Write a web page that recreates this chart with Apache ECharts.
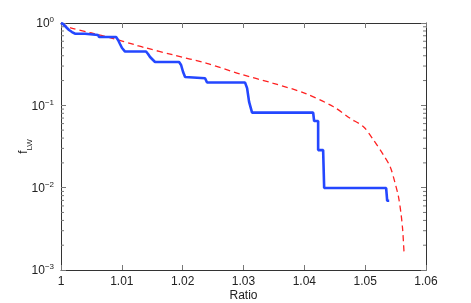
<!DOCTYPE html>
<html>
<head>
<meta charset="utf-8">
<script src="https://cdn.jsdelivr.net/npm/echarts@6/dist/echarts.min.js"></script>
<style>
  html, body { margin: 0; padding: 0; background: #fff; }
  #chart { width: 471px; height: 303px; }
</style>
</head>
<body>
<div id="chart"></div>
<script>
// blue step curve (measured)
const blueRatio = [1.0000, 1.00033, 1.00066, 1.00099, 1.00132, 1.00181, 1.0023, 1.00395, 1.00411, 1.00609,
  1.00625, 1.00905, 1.00938, 1.0097, 1.01003, 1.01053, 1.01398, 1.01431, 1.01464, 1.01513,
  1.01546, 1.01941, 1.01974, 1.02007, 1.0204, 1.02072, 1.02368, 1.02401, 1.03026, 1.03059,
  1.03092, 1.03141, 1.04145, 1.04161, 1.04227, 1.04227, 1.04309, 1.04326, 1.05345, 1.05362, 1.05395];
const blueF = [1.000, 0.972, 0.919, 0.869, 0.822, 0.777, 0.741, 0.741, 0.715, 0.715,
  0.676, 0.676, 0.621, 0.556, 0.497, 0.450, 0.450, 0.420, 0.386, 0.355,
  0.336, 0.336, 0.309, 0.254, 0.221, 0.213, 0.213, 0.189, 0.189, 0.162,
  0.110, 0.0815, 0.0815, 0.0645, 0.0645, 0.0286, 0.0286, 0.0099, 0.0099, 0.00693, 0.00693];

// red dashed curve (measured)
const redRatio = [1.0000, 1.0017, 1.0050, 1.00827, 1.01212, 1.01382, 1.01847, 1.02396, 1.02944, 1.03492,
  1.04013, 1.04479, 1.04753, 1.04972, 1.05137, 1.05301, 1.05411, 1.05493, 1.05548, 1.05592, 1.05617, 1.05641];
const redF = [1.000, 0.869, 0.756, 0.657, 0.545, 0.501, 0.409, 0.324, 0.240, 0.185,
  0.140, 0.0962, 0.0695, 0.0550, 0.0379, 0.0249, 0.01795, 0.01127, 0.00775, 0.00465, 0.00305, 0.00152];

const xTickLabels = ['1', '1.01', '1.02', '1.03', '1.04', '1.05', '1.06'];
const yExponents = ['0', '−1', '−2', '−3'];
const minorTicks = [0.002, 0.003, 0.004, 0.005, 0.006, 0.007, 0.008, 0.009,
  0.02, 0.03, 0.04, 0.05, 0.06, 0.07, 0.08, 0.09,
  0.2, 0.3, 0.4, 0.5, 0.6, 0.7, 0.8, 0.9];

const axisColor = '#333';
const textColor = '#222';
const fontFamily = '"Liberation Sans", Arial, sans-serif';

const chart = echarts.init(document.getElementById('chart'));

const boxAxisX = (pos, labels) => ({
  type: 'value',
  position: pos,
  min: 1,
  max: 1.06,
  interval: 0.01,
  axisLine: { show: true, onZero: false, lineStyle: { color: axisColor, width: 1 } },
  axisTick: { show: true, inside: true, length: 5, lineStyle: { color: '#777' } },
  splitLine: { show: false },
  axisLabel: {
    show: labels,
    color: textColor,
    fontSize: 12,
    fontFamily,
    margin: 6,
    formatter: (v) => xTickLabels[Math.round((v - 1) / 0.01)] || ''
  }
});

const boxAxisY = (pos, labels) => ({
  type: 'log',
  logBase: 10,
  position: pos,
  min: 0.001,
  max: 1,
  splitNumber: 3,
  axisLine: { show: true, onZero: false, lineStyle: { color: axisColor, width: 1 } },
  axisTick: { show: true, inside: true, length: 5, lineStyle: { color: '#777' } },
  splitLine: { show: false },
  axisLabel: {
    show: labels,
    margin: 7,
    formatter: (v) => {
      const e = Math.round(-Math.log10(v));
      return '{b|10}{s|' + yExponents[e] + '}';
    },
    rich: {
      b: { fontSize: 12, fontFamily, color: textColor, verticalAlign: 'bottom' },
      s: { fontSize: 8, fontFamily, color: textColor, verticalAlign: 'bottom', padding: [0, 0, 6, 0] }
    }
  }
});

const xMain = boxAxisX('bottom', true);
xMain.name = 'Ratio';
xMain.nameLocation = 'middle';
xMain.nameGap = 20;
xMain.nameMoveOverlap = false;
xMain.nameTextStyle = { color: textColor, fontSize: 12, fontFamily };

const yMain = boxAxisY('left', true);
yMain.name = '{f|f}{s|LW}';
yMain.nameLocation = 'middle';
yMain.nameGap = 27;
yMain.nameMoveOverlap = false;
yMain.nameTextStyle = {
  rich: {
    f: { fontSize: 12, fontFamily, color: textColor, verticalAlign: 'top' },
    s: { fontSize: 8, fontFamily, color: textColor, verticalAlign: 'top', padding: [8, 0, 0, 0] }
  }
};

const option = {
  animation: false,
  backgroundColor: '#fff',
  grid: { left: 61, right: 45, top: 23, bottom: 33, containLabel: false, outerBoundsMode: 'none' },
  xAxis: [xMain, boxAxisX('top', false)],
  yAxis: [yMain, boxAxisY('right', false)],
  series: [
    {
      type: 'line',
      data: blueRatio.map((r, i) => [r, blueF[i]]),
      showSymbol: false,
      symbol: 'none',
      lineStyle: { color: '#2447ff', width: 2.6 },
      z: 3
    },
    {
      type: 'line',
      data: redRatio.map((r, i) => [r, redF[i]]),
      showSymbol: false,
      symbol: 'none',
      smooth: 0.3,
      lineStyle: { color: '#ff2222', width: 1.3, type: [6, 4] },
      z: 2
    },
    {
      // log minor ticks on both sides of the box
      type: 'custom',
      clip: false,
      data: minorTicks.map((v) => [1, v]),
      encode: { x: 0, y: 1 },
      silent: true,
      renderItem: (params, api) => {
        const left = api.coord([1, api.value(1)]);
        const right = api.coord([1.06, api.value(1)]);
        const style = { stroke: '#777', lineWidth: 1 };
        return {
          type: 'group',
          children: [
            { type: 'line', shape: { x1: left[0], y1: left[1], x2: left[0] + 3, y2: left[1] }, style },
            { type: 'line', shape: { x1: right[0] - 3, y1: right[1], x2: right[0], y2: right[1] }, style }
          ]
        };
      }
    }
  ]
};

chart.setOption(option);
</script>
</body>
</html>
